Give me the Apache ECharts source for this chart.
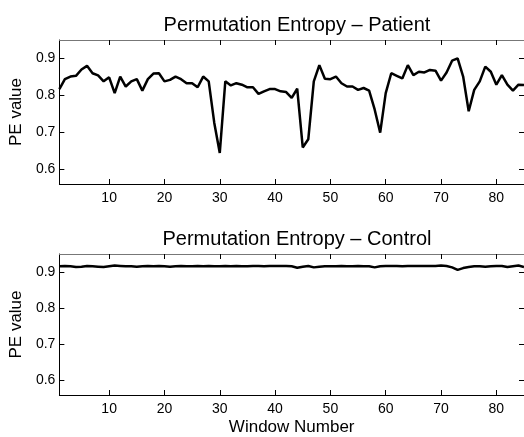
<!DOCTYPE html>
<html><head><meta charset="utf-8">
<script src="https://cdn.jsdelivr.net/npm/echarts@6/dist/echarts.min.js"></script>
<style>html,body{margin:0;padding:0;background:#fff}#c{width:524px;height:437px}</style>
</head><body><div id="c"></div>
<script>
const windows = [1,2,3,4,5,6,7,8,9,10,11,12,13,14,15,16,17,18,19,20,21,22,23,24,25,26,27,28,29,30,31,32,33,34,35,36,37,38,39,40,41,42,43,44,45,46,47,48,49,50,51,52,53,54,55,56,57,58,59,60,61,62,63,64,65,66,67,68,69,70,71,72,73,74,75,76,77,78,79,80,81,82,83,84,85];
const patientPE = [0.817,0.844,0.851,0.853,0.870,0.880,0.860,0.854,0.838,0.849,
  0.806,0.851,0.824,0.838,0.844,0.813,0.844,0.859,0.860,0.838,
  0.842,0.851,0.844,0.833,0.833,0.822,0.851,0.838,0.726,0.644,
  0.838,0.827,0.833,0.829,0.822,0.822,0.804,0.811,0.817,0.817,
  0.811,0.809,0.793,0.818,0.659,0.681,0.838,0.882,0.845,0.844,
  0.851,0.833,0.824,0.824,0.815,0.820,0.813,0.762,0.699,0.806,
  0.860,0.853,0.846,0.882,0.855,0.864,0.862,0.869,0.867,0.840,
  0.862,0.894,0.900,0.851,0.757,0.815,0.838,0.878,0.864,0.829,
  0.855,0.829,0.813,0.829,0.828];
const controlPE = [0.916,0.917,0.916,0.914,0.915,0.917,0.916,0.915,0.914,0.916,
  0.918,0.917,0.916,0.916,0.915,0.916,0.917,0.916,0.917,0.916,
  0.915,0.916,0.917,0.916,0.916,0.917,0.916,0.917,0.916,0.916,
  0.917,0.916,0.917,0.916,0.916,0.917,0.917,0.916,0.917,0.917,
  0.917,0.917,0.916,0.912,0.915,0.917,0.913,0.915,0.916,0.916,
  0.916,0.917,0.916,0.916,0.917,0.916,0.916,0.913,0.916,0.917,
  0.917,0.917,0.916,0.917,0.917,0.917,0.917,0.917,0.917,0.918,
  0.917,0.913,0.906,0.911,0.914,0.916,0.916,0.915,0.916,0.917,
  0.917,0.914,0.916,0.918,0.914];
const xTicks = [10,20,30,40,50,60,70,80];
const yTicks = [0.6,0.7,0.8,0.9];
const titles = ['Permutation Entropy \u2013 Patient', 'Permutation Entropy \u2013 Control'];
const yName = 'PE value';
const xName = 'Window Number';

const FONT = '"Liberation Sans", Arial, Helvetica, sans-serif';
const grids = [
  {left: 57, top: 40, width: 470, height: 144},
  {left: 57, top: 254, width: 470, height: 145}
];
function xAx(gi, pos, showLabel, name) {
  return {
    type: 'value', gridIndex: gi, position: pos, min: 1, max: 85,
    name: name || '', nameLocation: 'middle', nameGap: 24,
    nameTextStyle: {fontFamily: FONT, fontSize: 17, color: '#000'},
    axisLine: {show: true, onZero: false, lineStyle: {color: pos === 'top' ? '#777' : '#000', width: 1}},
    axisTick: {show: true, inside: true, length: 5, customValues: xTicks, lineStyle: {color: '#000'}},
    axisLabel: {show: showLabel, customValues: xTicks, fontFamily: FONT, fontSize: 14, color: '#000', margin: 7},
    splitLine: {show: false}
  };
}
function yAx(gi, pos, showLabel) {
  return {
    type: 'value', gridIndex: gi, position: pos, min: 0.56, max: 0.95,
    name: showLabel ? yName : '', nameLocation: 'middle', nameGap: 33, nameRotate: 90,
    nameTextStyle: {fontFamily: FONT, fontSize: 17, color: '#000'},
    axisLine: {show: true, onZero: false, lineStyle: {color: '#000', width: 1}},
    axisTick: {show: true, inside: true, length: 5, customValues: yTicks, lineStyle: {color: '#000'}},
    axisLabel: {show: showLabel, customValues: yTicks, fontFamily: FONT, fontSize: 14, color: '#000', margin: 4,
      formatter: v => v.toFixed(1)},
    splitLine: {show: false}
  };
}
const chart = echarts.init(document.getElementById('c'), null, {renderer: 'canvas'});
chart.setOption({
  backgroundColor: '#fff',
  animation: false,
  title: [
    {text: titles[0], left: 292, textAlign: 'center', top: 10, textStyle: {fontFamily: FONT, fontSize: 20, fontWeight: 'normal', color: '#000'}},
    {text: titles[1], left: 292, textAlign: 'center', top: 224, textStyle: {fontFamily: FONT, fontSize: 20, fontWeight: 'normal', color: '#000'}}
  ],
  grid: grids,
  xAxis: [xAx(0, 'bottom', true), xAx(0, 'top', false), xAx(1, 'bottom', true, xName), xAx(1, 'top', false)],
  yAxis: [yAx(0, 'left', true), yAx(0, 'right', false), yAx(1, 'left', true), yAx(1, 'right', false)],
  series: [
    {type: 'line', xAxisIndex: 0, yAxisIndex: 0, showSymbol: false, symbol: 'none',
      lineStyle: {color: '#000', width: 2.5}, data: windows.map((w, i) => [w, patientPE[i]])},
    {type: 'line', xAxisIndex: 2, yAxisIndex: 2, showSymbol: false, symbol: 'none',
      lineStyle: {color: '#000', width: 2.5}, data: windows.map((w, i) => [w, controlPE[i]])}
  ]
});
</script></body></html>
